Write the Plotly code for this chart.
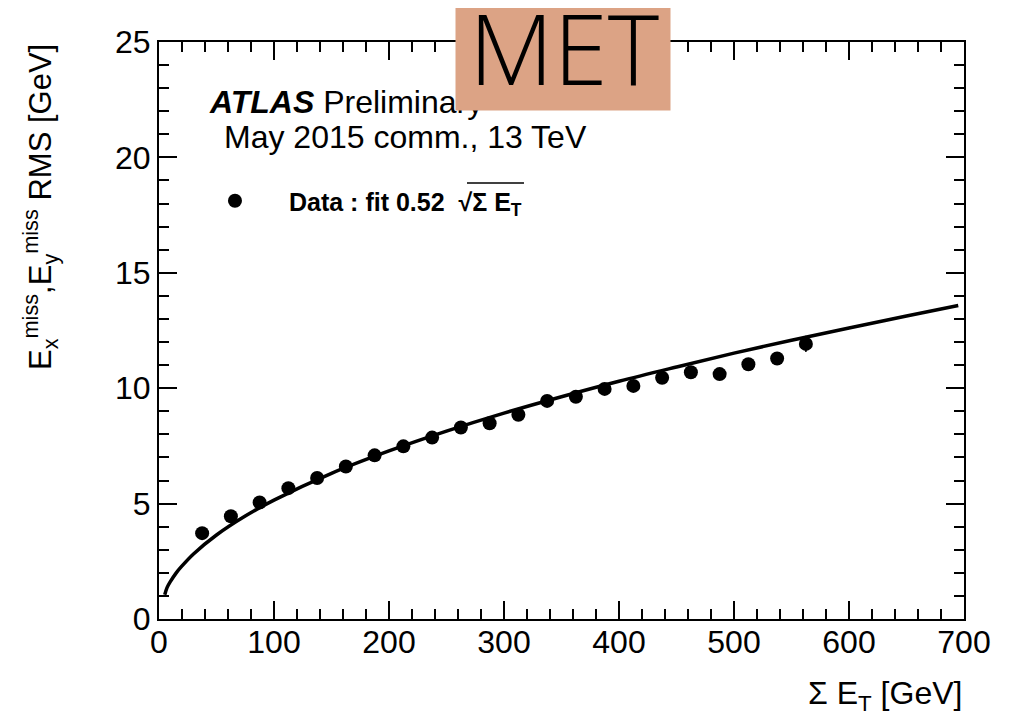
import plotly.graph_objects as go

# Data points (bin centres of Sum E_T [GeV]) and RMS values [GeV]
sumet = [37.5, 62.5, 87.5, 112.5, 137.5, 162.5, 187.5, 212.5, 237.5, 262.5, 287.5,
         312.5, 337.5, 362.5, 387.5, 412.5, 437.5, 462.5, 487.5, 512.5, 537.5, 562.5]
rms = [3.72, 4.45, 5.05, 5.67, 6.11, 6.61, 7.09, 7.48, 7.86, 8.30, 8.48,
       8.85, 9.45, 9.63, 9.97, 10.10, 10.45, 10.69, 10.61, 11.04, 11.29, 11.92]
rms_err = [0.04, 0.04, 0.04, 0.04, 0.04, 0.04, 0.04, 0.05, 0.05, 0.05, 0.06,
           0.06, 0.07, 0.07, 0.08, 0.09, 0.10, 0.11, 0.12, 0.14, 0.20, 0.35]

# Fit curve
fit_x = [5, 7, 10, 15, 20, 30, 50, 75, 100, 150, 200, 250, 300, 350, 400,
         450, 500, 550, 600, 650, 695]
fit_y = [1.05, 1.36, 1.63, 2.0, 2.30, 2.82, 3.64, 4.46, 5.15, 6.31, 7.28, 8.14,
         8.92, 9.63, 10.3, 10.92, 11.52, 12.08, 12.61, 13.13, 13.58]

x_ticks = [0, 100, 200, 300, 400, 500, 600, 700]
y_ticks = [0, 5, 10, 15, 20, 25]

FONT = "Liberation Sans"

fig = go.Figure()
fig.add_trace(go.Scatter(x=fit_x, y=fit_y, mode="lines", line=dict(color="black", width=3.5, shape="spline"),
                         showlegend=False, hoverinfo="skip"))
fig.add_trace(go.Scatter(x=sumet, y=rms, mode="markers",
                         marker=dict(color="black", size=14),
                         error_y=dict(type="data", array=rms_err, color="black", thickness=1.5, width=0),
                         name="<b>Data : fit 0.52  √Σ E<sub>T</sub></b>", showlegend=True))

axis_common = dict(showline=True, linecolor="black", linewidth=2, mirror="ticks",
                   ticks="inside", ticklen=18, tickwidth=1.5, tickcolor="black",
                   showgrid=False, zeroline=False,
                   tickfont=dict(family=FONT, size=32, color="black"))

fig.update_xaxes(range=[0, 700], tickvals=x_ticks, ticktext=[str(v) for v in x_ticks],
                 ticklabelstandoff=-6,
                 minor=dict(ticks="inside", dtick=20, ticklen=10, tickwidth=1.5, tickcolor="black", showgrid=False),
                 **axis_common)
fig.update_yaxes(range=[0, 25], tickvals=y_ticks, ticktext=[str(v) for v in y_ticks],
                 minor=dict(ticks="inside", dtick=1, ticklen=10, tickwidth=1.5, tickcolor="black", showgrid=False),
                 **axis_common)

annotations = [
    dict(text="E<sub>x</sub><sup>miss</sup>,E<sub>y</sub><sup>miss</sup> RMS [GeV]",
         xref="paper", yref="paper", x=-0.1478, y=1.0, xanchor="center", yanchor="top",
         textangle=-90, showarrow=False, font=dict(family=FONT, size=31, color="black")),
    dict(text="Σ E<sub>T</sub> [GeV]", xref="paper", yref="paper", x=1.0, y=-0.1334,
         xanchor="right", yanchor="middle", showarrow=False, font=dict(family=FONT, size=32, color="black")),
    dict(text="<b><i>ATLAS</i></b> Preliminary", xref="paper", yref="paper", x=0.0596, y=0.896,
         xanchor="left", yanchor="middle", showarrow=False, font=dict(family=FONT, size=32, color="black")),
    dict(text="May 2015 comm., 13 TeV", xref="paper", yref="paper", x=0.0783, y=0.835,
         xanchor="left", yanchor="middle", showarrow=False, font=dict(family=FONT, size=32, color="black")),
    dict(text=" ", xref="paper", yref="paper", x=0.5019, y=0.9705, xanchor="center", yanchor="middle",
         showarrow=False, bgcolor="#DCA385", width=212, height=100, font=dict(size=10)),
    dict(text="MET", xref="paper", yref="paper", x=0.5037, y=0.9913, xanchor="center", yanchor="middle",
         showarrow=False, font=dict(family="Open Sans", size=98, color="black", weight=300)),
]
fig.update_layout(
    width=1023, height=717,
    margin=dict(l=151, r=67, t=34, b=106),
    paper_bgcolor="white", plot_bgcolor="white",
    annotations=annotations,
    legend=dict(x=0.0273, y=0.7244, xanchor="left", yanchor="middle", bgcolor="rgba(0,0,0,0)",
                font=dict(family=FONT, size=25, color="black"), itemwidth=98),
    shapes=[dict(type="line", xref="paper", yref="paper", x0=0.3826, x1=0.4534, y0=0.7556, y1=0.7556,
                 line=dict(color="black", width=1.5))],
)

fig.write_html("out.html")
